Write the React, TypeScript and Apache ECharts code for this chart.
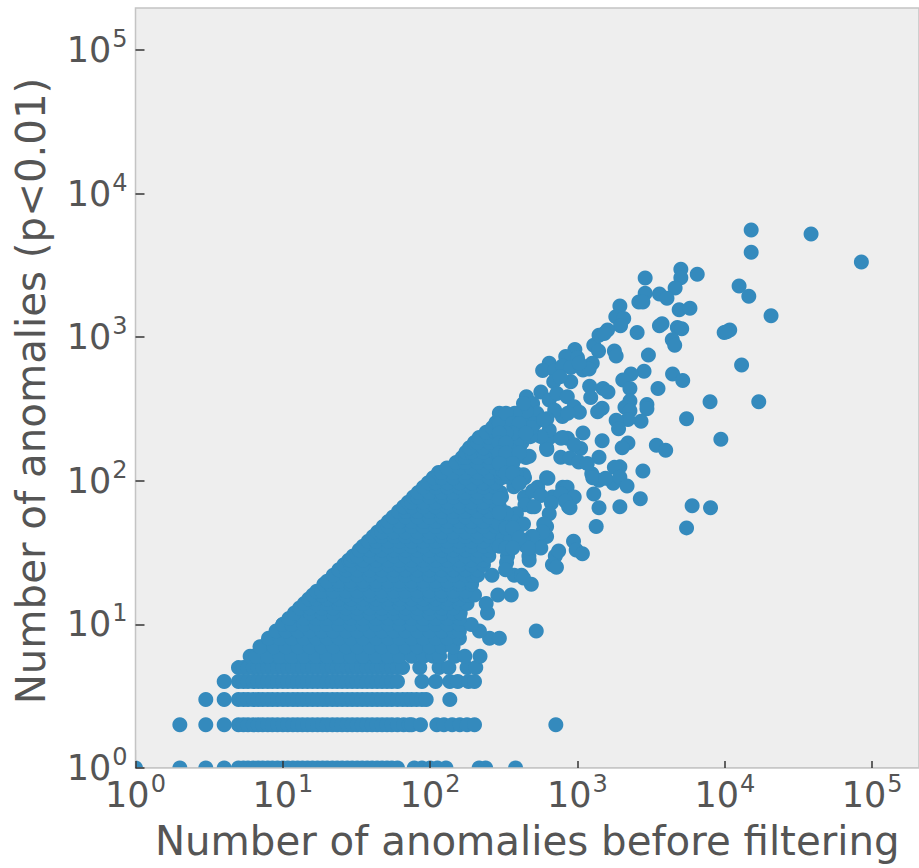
import React, { useEffect, useRef } from "react";
import * as echarts from "echarts";

const xTicks = [1, 10, 100, 1000, 10000, 100000];
const yTicks = [1, 10, 100, 1000, 10000, 100000];
const xTitle = "Number of anomalies before filtering";
const yTitle = "Number of anomalies (p<0.01)";

const lowRowX = [5, 5.4, 5.8, 6.3, 6.8, 7.3, 7.9, 8.5, 9.2, 10, 10.8, 11.7, 12.6, 13.6, 14.7, 15.9, 17.2, 18.6, 20, 21.7, 23.4, 25.3, 27.4, 29.6, 32, 34.6, 37.4, 40.4, 43.7, 47.2, 51, 55, 60];
const lowRowY = [1, 2, 3, 4, 5];
const midRowY = [6, 7, 8, 9, 10];

const row1 = [1, 2, 3, 4, 78, 88, 100, 112, 128, 215, 238, 380];
const row2 = [2, 3, 4, 66, 72, 75, 86, 111, 124, 141, 159, 178, 200, 713];
const row3 = [3, 4, 65, 70, 75, 81, 88, 94, 136];
const row4 = [4, 88, 109, 136, 154, 182, 200];
const row5 = [65, 85, 115, 134, 178, 204];

const denseRows: [number, number[]][] = [
  [6, [6, 6.6, 7.9, 9.6, 11.5, 13.9, 16.8, 20, 24, 29, 35, 43, 52, 62, 75, 90, 105, 116, 147, 172, 218]],
  [7, [7, 8.7, 10.5, 12.7, 15.3, 18.4, 22, 27, 32, 39, 47, 57, 68, 82, 99, 120, 143]],
  [8, [8, 9.6, 11.5, 13.9, 16.8, 20, 24, 29, 35, 43, 52, 62, 75, 90, 109, 131, 158, 253, 295]],
  [9, [9, 10.5, 12.7, 15.3, 18.4, 22, 27, 32, 39, 47, 57, 68, 82, 99, 120, 144, 158, 216, 525]],
  [10, [10, 11.5, 13.9, 16.8, 20, 24, 29, 35, 43, 52, 62, 75, 90, 109, 131, 158, 190]],
  [11, [11, 13.9, 16.8, 20, 24, 29, 35, 43, 52, 62, 75, 90, 109, 131, 158]],
  [12, [12, 15.3, 18.4, 22, 27, 32, 39, 47, 57, 68, 82, 99, 120, 144, 160, 245]],
  [13, [13, 15.3, 18.4, 22, 27, 32, 39, 47, 57, 68, 82, 99, 120, 144]],
  [14, [14, 16.8, 20, 24, 29, 35, 43, 52, 62, 75, 90, 109, 131, 158, 178, 240]],
  [15, [15, 16.8, 20, 24, 29, 35, 43, 52, 62, 75, 90, 109, 131, 158]],
  [16, [16, 18.4, 22, 27, 32, 39, 47, 57, 68, 82, 99, 120, 144, 174, 185, 200, 288, 355]],
  [17, [17, 18.4, 22, 27, 32, 39, 47, 57, 68, 82, 99, 120, 144, 174]],
  [19, [19, 21, 24, 29, 35, 43, 52, 62, 75, 90, 109, 131, 158, 191, 486]],
  [20, [20, 24, 29, 35, 43, 52, 62, 75, 90, 109, 131, 158, 191]],
  [22, [22, 27, 32, 39, 47, 57, 68, 82, 99, 120, 144, 174, 194, 210, 263, 372, 417]],
  [24, [24, 27, 32, 39, 47, 57, 68, 82, 99, 120, 144, 174, 210]],
  [26, [26, 29, 35, 43, 52, 62, 75, 90, 109, 131, 158, 191, 230, 676]],
  [28, [28, 29, 35, 43, 52, 62, 75, 90, 109, 131, 158, 191, 230]],
  [30, [30, 32, 39, 47, 57, 68, 82, 99, 120, 144, 174, 210, 250, 335, 468, 707]],
  [33, [33, 39, 47, 57, 68, 82, 99, 120, 144, 174, 210, 250]],
  [35, [35, 43, 52, 62, 75, 90, 109, 131, 158, 191, 230, 265, 447, 550]],
  [38, [38, 43, 52, 62, 75, 90, 109, 131, 158, 191, 230]],
  [41, [41, 47, 57, 68, 82, 99, 120, 144, 174, 210, 253, 310, 490, 617]],
  [44, [44, 47, 57, 68, 82, 99, 120, 144, 174, 210, 253]],
  [48, [48, 52, 62, 75, 90, 109, 131, 158, 191, 230, 278, 398, 617]],
  [52, [52, 62, 75, 90, 109, 131, 158, 191, 230, 278]],
  [56, [56, 68, 82, 99, 120, 144, 174, 210, 253, 300, 372]],
  [61, [61, 68, 82, 99, 120, 144, 174, 210, 253]],
  [66, [66, 75, 90, 109, 131, 158, 191, 230, 278, 295, 490, 871]],
  [71, [71, 75, 90, 109, 131, 158, 191, 230, 278]],
  [77, [77, 82, 99, 120, 144, 174, 210, 253, 305, 437, 676]],
  [83, [83, 99, 120, 144, 174, 210, 253, 300]],
  [90, [90, 109, 131, 158, 191, 230, 278, 537, 794]],
  [97, [97, 109, 131, 158, 191, 230, 278]],
  [105, [105, 120, 144, 174, 210, 253, 305, 437, 617]],
  [114, [114, 120, 144, 174, 210, 253, 300]],
  [123, [130, 158, 191, 230, 278, 335]],
  [134, [150, 174, 210, 253, 305, 350]],
  [145, [165, 174, 210, 253, 305, 368, 447]],
  [158, [175, 191, 230, 278, 335, 380]],
  [170, [185, 230, 278, 335, 404, 617]],
  [185, [200, 210, 253, 305, 368, 420]],
  [200, [215, 253, 305, 368, 420, 794, 646]],
  [218, [240, 278, 335, 404, 440]],
  [235, [265, 335, 404, 470]],
  [255, [280, 305, 368, 470]],
  [275, [300, 368, 444, 520]],
];

const scatterX = [
  15100, 38500, 15100, 84500, 6500, 5030, 5030, 2880, 4600, 12500, 14550, 3600, 4050, 2880, 2610, 2780, 20600, 1940, 1820, 2060, 1960, 2540, 4900, 5800, 3600, 3750, 4760, 5100, 4400, 4570, 10300, 10800, 9900, 13000, 3030, 2830, 1780, 1830, 1290, 1390, 1400, 1600, 1520, 4420, 5180, 3520, 2310, 2030, 2270, 1490, 1610, 1210, 1230, 7940, 17000, 5500, 2960, 2960, 2270, 2100, 2270, 2700, 2200, 1470, 1370, 1830, 1900, 9400, 2200, 2010, 3430, 3970, 1470, 1400, 1090, 1050, 1940, 1780, 2780, 1250, 1400, 1750, 1940, 2170, 2670, 1290, 1400, 1940, 1340, 6000, 8000, 5500, 940, 980, 1080, 745, 720,
  960, 832, 1000, 643, 580, 700, 790, 900, 1090, 1260, 690, 900, 1200, 760, 1030, 450, 564, 496, 643, 725, 853, 950, 1030, 790, 700, 860, 620, 530, 450, 430, 643, 564, 620, 855, 948, 773, 770, 890, 1020, 1165, 1270, 1550, 630, 496, 564, 440, 510, 850, 775, 950, 830, 890, 665, 643, 590, 580, 370, 340, 430, 385, 370, 430, 295, 496, 564, 470, 430, 465, 350, 330, 430, 325, 295, 295, 375, 330, 400, 345, 480, 385, 345, 400, 295, 470, 330, 385, 310, 510, 490, 590,
  295, 327, 363, 403, 363, 327, 295, 295, 327, 447, 295, 327, 403, 363, 295, 327, 363, 403, 295, 327, 363, 403, 327, 363, 327, 295,
];
const scatterY = [
  5580, 5230, 3900, 3340, 2740, 2970, 2590, 2580, 2200, 2270, 1930, 2000, 1870, 2020, 1760, 1760, 1410, 1648, 1390, 1350, 1200, 1080, 1550, 1590, 1200, 1240, 1170, 1145, 960, 880, 1090, 1122, 1080, 640, 750, 580, 800, 740, 880, 800, 1030, 1120, 1060, 555, 500, 440, 555, 504, 440, 440, 415, 455, 380, 355, 355, 270, 340, 318, 360, 325, 307, 260, 267, 320, 302, 264, 230, 195, 183, 170, 177, 163, 190, 146, 215, 168, 125, 124, 117, 112, 101, 96, 106, 92, 75, 81, 65, 66, 48, 67, 65, 47, 38, 33, 31, 32.5, 25,
  820, 735, 720, 658, 585, 585, 630, 615, 590, 658, 490, 490, 600, 530, 658, 385, 415, 345, 365, 405, 385, 328, 300, 280, 310, 295, 270, 295, 305, 345, 226, 203, 165, 198, 178, 198, 146, 144, 135, 132, 105, 104, 104, 85, 79, 68, 66, 90, 81, 77, 72, 65, 70, 59, 50, 44, 91, 106, 110, 59, 52, 50, 75, 41, 34, 28, 38, 34, 39, 27, 21, 24, 35, 295, 295, 260, 235, 215, 203, 185, 165, 148, 148, 148, 125, 112, 118, 250, 235, 265,
  251, 295, 251, 251, 214, 214, 214, 183, 183, 214, 156, 156, 156, 132, 132, 113, 113, 96, 50, 47, 47, 40, 34, 34, 60, 60,
];

const points: number[][] = [];
lowRowY.forEach((y) => lowRowX.forEach((x) => points.push([x, y])));
midRowY.forEach((y) => lowRowX.filter((x) => x >= y).forEach((x) => points.push([x, y])));
row1.forEach((x) => points.push([x, 1]));
row2.forEach((x) => points.push([x, 2]));
row3.forEach((x) => points.push([x, 3]));
row4.forEach((x) => points.push([x, 4]));
row5.forEach((x) => points.push([x, 5]));
denseRows.forEach(([y, xs]) => xs.forEach((x) => points.push([x, y])));
scatterX.forEach((x, i) => points.push([x, scatterY[i]]));

const fontFamily = "DejaVu Sans";
const labelColor = "#555555";
const borderColor = "#c4c4c4";

function powerLabel(value: number) {
  const exp = Math.round(Math.log10(value));
  return `{b|10}{s|${exp}}`;
}

const richLabel = {
  b: { fontSize: 35, color: labelColor, fontFamily },
  s: { fontSize: 24, color: labelColor, fontFamily, padding: [0, 0, 22, 1] },
};

export default function App() {
  const ref = useRef<HTMLDivElement>(null);
  useEffect(() => {
    const chart = echarts.init(ref.current!, undefined, { renderer: "svg" });
    chart.setOption({
      animation: false,
      backgroundColor: "#ffffff",
      grid: {
        show: true,
        left: 135.5,
        top: 8,
        width: 783.5,
        height: 760,
        backgroundColor: "#eeeeee",
        borderColor,
        borderWidth: 1.5,
      },
      // The scatter series does not cut its symbols at the plot edge: these mask what overflows.
      graphic: [
        { type: "rect", z: 4, silent: true, shape: { x: 0, y: 768, width: 919, height: 9 }, style: { fill: "#ffffff" } },
        { type: "rect", z: 4, silent: true, shape: { x: 126, y: 750, width: 9.5, height: 27 }, style: { fill: "#ffffff" } },
        { type: "line", z: 4, silent: true, shape: { x1: 135.5, y1: 768, x2: 919, y2: 768 }, style: { stroke: borderColor, lineWidth: 1.5 } },
        { type: "line", z: 4, silent: true, shape: { x1: 135.5, y1: 750, x2: 135.5, y2: 768.7 }, style: { stroke: borderColor, lineWidth: 1.5 } },
      ],
      xAxis: {
        type: "log",
        min: 1,
        max: 208000,
        z: 5,
        name: xTitle,
        nameLocation: "middle",
        nameGap: 53,
        nameTextStyle: { fontSize: 40.3, color: labelColor, fontFamily },
        splitLine: { show: false },
        minorTick: { show: false },
        axisLine: { show: false },
        axisTick: { show: true, inside: true, length: 7, customValues: xTicks, lineStyle: { color: "#333333", width: 1.5 } },
        axisLabel: { customValues: xTicks, formatter: powerLabel, rich: richLabel, margin: 4, showMinLabel: true, showMaxLabel: true, hideOverlap: false },
      },
      yAxis: {
        type: "log",
        min: 1,
        max: 196000,
        z: 5,
        name: yTitle,
        nameLocation: "middle",
        nameGap: 84,
        nameTextStyle: { fontSize: 40.3, color: labelColor, fontFamily, padding: [0, 6, 0, 0] },
        splitLine: { show: false },
        minorTick: { show: false },
        axisLine: { show: false },
        axisTick: { show: true, inside: true, length: 9, customValues: yTicks, lineStyle: { color: "#333333", width: 1.5 } },
        axisLabel: { customValues: yTicks, formatter: powerLabel, rich: richLabel, margin: 8, showMinLabel: true, showMaxLabel: true, hideOverlap: false },
      },
      series: [
        {
          type: "scatter",
          data: points,
          symbol: "circle",
          symbolSize: 15,
          clip: true,
          large: false,
          itemStyle: { color: "#348ABD", opacity: 1 },
        },
      ],
    });
    return () => chart.dispose();
  }, []);
  return (
    <div
      ref={ref}
      style={{ position: "fixed", left: 0, top: 0, width: 919, height: 868 }}
    />
  );
}
